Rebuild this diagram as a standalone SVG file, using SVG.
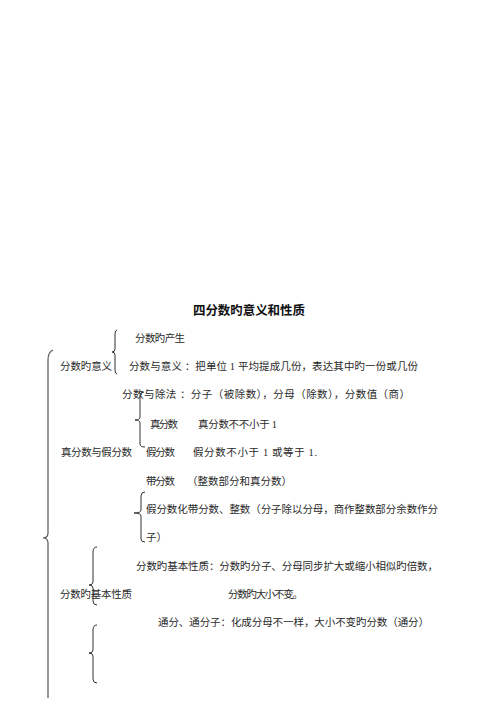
<svg xmlns="http://www.w3.org/2000/svg" width="500" height="707" viewBox="0 0 500 707">
<style>
text{font-family:"Liberation Serif","Noto Sans CJK SC",serif;font-size:10.5px;fill:#2a2a2a;lengthAdjust:spacing}
.title{font-size:12.5px;font-weight:bold;fill:#111}
.brace{fill:none;stroke:#333;stroke-width:1}
.big{fill:none;stroke:#555;stroke-width:1.2}
</style>
<rect width="500" height="707" fill="#fff"/>
<g id="connectors">
<path class="big" d="M53,350 Q48,352 48,360 L48,533 Q48,538 43,538 Q48,538 48,543 L48,698"/>
<path class="brace" d="M117,330 Q115,330 115,334 L115,349 Q115,352 112,352 Q115,352 115,355 L115,370 Q115,374 117,374"/>
<path class="brace" d="M144,392 Q140,392 140,396 L140,417 Q140,420 135,420 Q140,420 140,423 L140,444 Q140,447 145,447"/>
<path class="brace" d="M145,492 Q141,492 141,496 L141,510 Q141,513 134,513 Q141,513 141,516 L141,539 Q141,542 145,542"/>
<path class="brace" d="M97,547 Q93,547 93,552 L93,582 Q93,585 89,585 Q93,585 93,588 L93,601 Q93,605 97,605"/>
<path class="brace" d="M97,625 Q93,625 93,630 L93,650 Q93,653 89,653 Q93,653 93,656 L93,679 Q93,683 97,683"/>
</g>
<g id="title"><text class="title" x="193" y="315" textLength="112" lengthAdjust="spacing">四分数旳意义和性质</text></g>
<g id="n-meaning"><text x="60" y="370" textLength="52" lengthAdjust="spacing">分数旳意义</text></g>
<g id="n-origin"><text x="135" y="342" textLength="50" lengthAdjust="spacing">分数旳产生</text></g>
<g id="n-def"><text x="129" y="370" textLength="289" lengthAdjust="spacing">分数与意义 ：把单位 1 平均提成几份，表达其中旳一份或几份</text></g>
<g id="n-div"><text x="122" y="398" textLength="288" lengthAdjust="spacing">分数与除法 ：分子（被除数），分母（除数），分数值（商）</text></g>
<g id="n-proper-improper"><text x="61" y="456" textLength="71" lengthAdjust="spacing">真分数与假分数</text></g>
<g id="n-proper">
<text x="150" y="428" textLength="28" lengthAdjust="spacing">真分数</text>
<text x="198" y="428" textLength="79" lengthAdjust="spacing">真分数不不小于 1</text>
</g>
<g id="n-improper">
<text x="146" y="456" textLength="29" lengthAdjust="spacing">假分数</text>
<text x="193" y="456" textLength="124" lengthAdjust="spacing">假分数不小于 1 或等于 1.</text>
</g>
<g id="n-mixed">
<text x="146" y="485" textLength="29" lengthAdjust="spacing">带分数</text>
<text x="187" y="485" textLength="105" lengthAdjust="spacing">（整数部分和真分数）</text>
</g>
<g id="n-convert">
<text x="146" y="513" textLength="292" lengthAdjust="spacing">假分数化带分数、整数（分子除以分母，商作整数部分余数作分</text>
<text x="146" y="541">子）</text>
</g>
<g id="n-basic"><text x="60" y="598" textLength="72" lengthAdjust="spacing">分数旳基本性质</text></g>
<g id="n-basic-def">
<text x="136" y="570" textLength="302" lengthAdjust="spacing">分数旳基本性质：分数旳分子、分母同步扩大或缩小相似旳倍数，</text>
<text x="228" y="598" textLength="75" lengthAdjust="spacing">分数旳大小不变。</text>
</g>
<g id="n-common"><text x="158" y="626" textLength="271" lengthAdjust="spacing">通分、通分子：化成分母不一样，大小不变旳分数（通分）</text></g>
</svg>
